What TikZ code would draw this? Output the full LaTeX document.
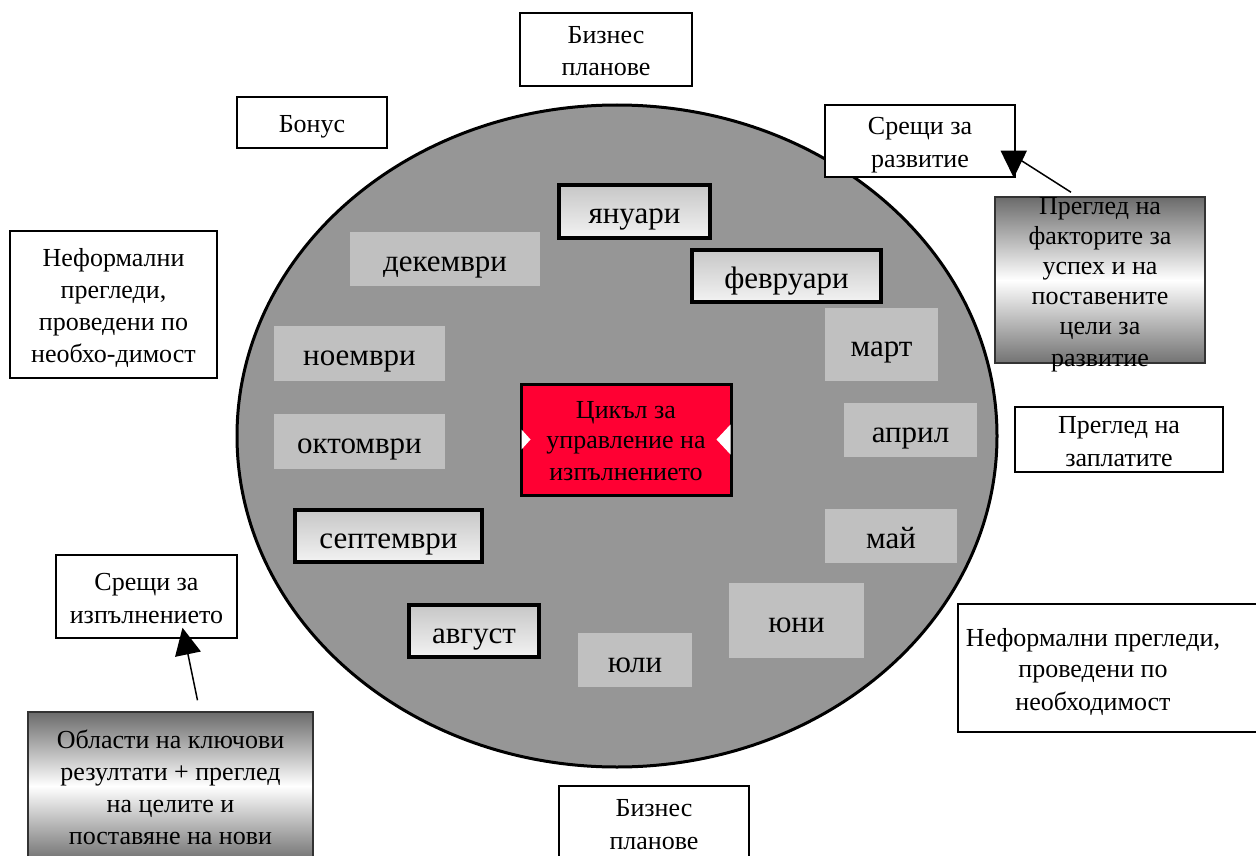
\documentclass[tikz,border=0pt]{standalone}
\usepackage{fontspec}
\setmainfont{Liberation Serif}
\usetikzlibrary{arrows.meta,positioning,shapes.geometric}
\definecolor{corered}{RGB}{255,0,51}
\definecolor{wheelgray}{RGB}{150,150,150}
\definecolor{monthgray}{RGB}{192,192,192}
\newcommand{\wstrut}{\rule[-0.22em]{0pt}{1.22em}}

\begin{document}
\begin{tikzpicture}[
    x=1pt, y=-1pt,
    >=Stealth,
    wordtext/.style={
        inner sep=0pt,
        execute at begin node=\wstrut,
        execute at end node=\wstrut
    },
    box/.style={
        wordtext,
        draw=black,
        line width=1.5pt,
        fill=white,
        align=flush center,
        font=\fontsize{26}{31}\selectfont
    },
    gradbox/.style={
        draw=black!80,
        line width=1.5pt,
        top color=black!58,
        bottom color=black!55,
        middle color=white,
        inner sep=0pt
    },
    month/.style={
        wordtext,
        fill=monthgray,
        font=\fontsize{31}{36}\selectfont
    },
    monthkey/.style={
        month,
        draw=black,
        line width=3.5pt,
        top color=black!22,
        bottom color=black!5
    },
    conn/.style={
        -{Triangle[width=26pt,length=27pt]},
        line width=1.5pt
    }
]
\useasboundingbox (0,0) rectangle (1256,856);

% Year wheel
\node[ellipse, draw=black, line width=3pt, fill=wheelgray,
      minimum width=760pt, minimum height=662pt] (wheel) at (617,436) {};

% Centre
\node[wordtext, draw=black, line width=3pt, fill=corered, align=flush center,
      text width=210pt, minimum height=111pt,
      font=\fontsize{26}{30}\selectfont] (core) at (626,439.5)
      {Цикъл за\\управление на\\изпълнението};
\fill[white] (core.west) ++(2,-10) -- ++(9,10) -- ++(-9,10) -- cycle;
\fill[white] (core.east) ++(-2,-15) -- ++(-14,15) -- ++(14,15) -- cycle;

% Months
\node[monthkey, minimum width=151pt, minimum height=53pt] (jan) at (634.5,211.5) {януари};
\node[monthkey, minimum width=189pt, minimum height=52pt] (feb) at (786.5,276) {февруари};
\node[month, minimum width=113pt, minimum height=73pt] (mar) at (881.5,344.5) {март};
\node[month, minimum width=133pt, minimum height=54pt] (apr) at (910.5,430) {април};
\node[month, minimum width=132pt, minimum height=54pt] (may) at (891,536) {май};
\node[month, minimum width=135pt, minimum height=75pt] (jun) at (796.5,620.5) {юни};
\node[month, minimum width=114pt, minimum height=54pt] (jul) at (635,660) {юли};
\node[monthkey, minimum width=130pt, minimum height=52pt] (aug) at (474,631) {август};
\node[monthkey, minimum width=187pt, minimum height=52pt] (sep) at (388.5,536) {септември};
\node[month, minimum width=171pt, minimum height=55pt] (oct) at (359.5,441) {октомври};
\node[month, minimum width=171pt, minimum height=55pt] (nov) at (359.5,353.5) {ноември};
\node[month, minimum width=190pt, minimum height=54pt] (dec) at (445,259) {декември};

% Events around the wheel
\node[box, text width=172pt, minimum height=73pt] (bizTop) at (606,49.5) {Бизнес\\планове};
\node[box, text width=150pt, minimum height=51pt] (bonus) at (312,122.5) {Бонус};
\node[box, text width=190pt, minimum height=72pt] (devMeet) at (920,141) {Срещи за\\развитие};
\node[box, text width=207pt, minimum height=147pt, font=\fontsize{26}{32}\selectfont]
      (infoLeft) at (113.5,304.5)
      {Неформални\\прегледи,\\проведени по\\необхо-димост};
\node[box, text width=208pt, minimum height=65pt] (salary) at (1119,439.5) {Преглед на\\заплатите};
\node[box, text width=181pt, minimum height=83pt] (perfMeet) at (146.5,596.5) {Срещи за\\изпълнението};
\node[box, minimum width=304pt, minimum height=128pt] (infoRight) at (1110,668) {};
\node[wordtext, align=flush center, text width=280pt, font=\fontsize{26}{31.5}\selectfont] at (1093,668)
      {Неформални прегледи,\\проведени по\\необходимост};
\node[box, text width=190pt, minimum height=74pt] (bizBot) at (654,823) {Бизнес\\планове};

% Reviews
\node[gradbox, minimum width=210pt, minimum height=166pt] (factors) at (1100,280) {};
\node[wordtext, align=flush center, text width=210pt, font=\fontsize{26}{30}\selectfont] at (factors)
      {Преглед на\\факторите за\\успех и на\\поставените\\цели за\\развитие};
\node[gradbox, wordtext, align=flush center, font=\fontsize{26}{32}\selectfont,
      text width=285pt, minimum height=148pt] (kra) at (170.5,786)
      {Области на ключови\\резултати + преглед\\на целите и\\поставяне на нови};

% Connectors
\draw[conn] ([xshift=-29pt,yshift=4pt]factors.north)
    -- ([xshift=-2pt,yshift=22pt]devMeet.south east)
    -- ([xshift=-2pt]devMeet.south east);
\draw[conn] ([xshift=27pt,yshift=11pt]kra.north) -- ([xshift=36pt,yshift=11pt]perfMeet.south);

\end{tikzpicture}
\end{document}
